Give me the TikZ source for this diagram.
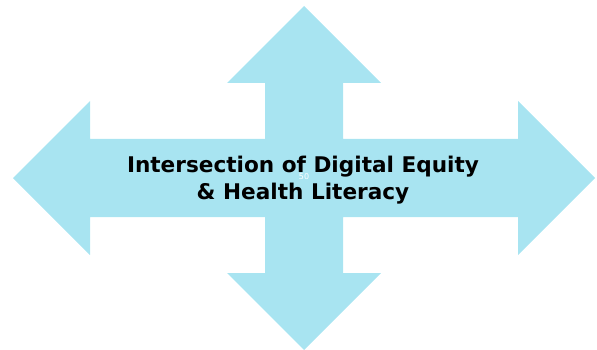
\documentclass[tikz,border=0pt]{standalone}
\usepackage{fontspec}
\setmainfont{DejaVu Sans}
\definecolor{crossblue}{RGB}{168,228,241}

\begin{document}
\begin{tikzpicture}[x=1pt,y=-1pt]
		\useasboundingbox (0,0) rectangle (597,350);
		% four-way arrow
		\fill[crossblue] (304,6)--(381,83)--(343,83)--(343,139)--(518,139)--(518,101)--(595,178)
			--(518,255)--(518,217)--(343,217)--(343,273)--(381,273)--(304,350)--(227,273)--(265,273)
			--(265,217)--(90,217)--(90,255)--(13,178)--(90,101)--(90,139)--(265,139)--(265,83)--(227,83)--cycle;
		
		\node[align=center,font=\bfseries\fontsize{21.6}{27}\selectfont] (title) at (303,180)
			{Intersection of Digital Equity\\\& Health Literacy};
		\node[white,font=\fontsize{8}{9}\selectfont] (pagenum) at (304,177) {50};
	\end{tikzpicture}
\end{document}
